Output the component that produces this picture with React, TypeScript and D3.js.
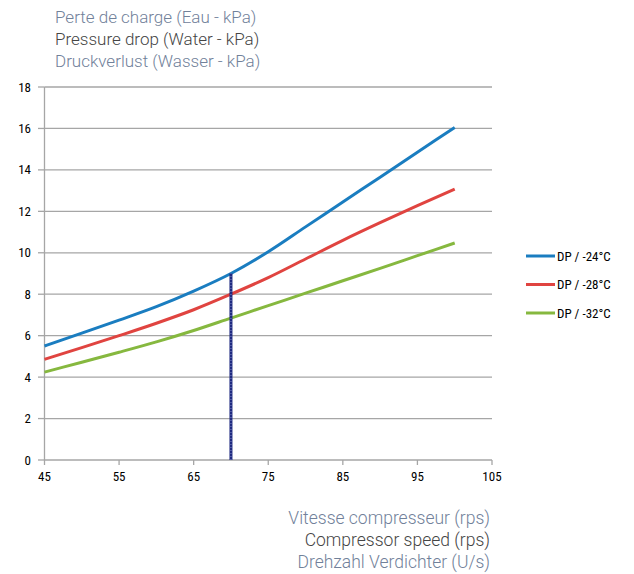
import React from "react";
import * as d3 from "d3";

const speeds = [45, 50, 55, 60, 65, 70, 75, 80, 85, 90, 95, 100];
const dp24 = [5.5, 6.12, 6.75, 7.4, 8.15, 9.0, 10.05, 11.25, 12.45, 13.65, 14.85, 16.05];
const dp28 = [4.86, 5.42, 6.0, 6.6, 7.25, 8.0, 8.8, 9.7, 10.6, 11.45, 12.27, 13.07];
const dp32 = [4.24, 4.72, 5.2, 5.7, 6.25, 6.85, 7.45, 8.05, 8.65, 9.25, 9.86, 10.47];
const seriesNames = ["DP / -24°C", "DP / -28°C", "DP / -32°C"];
const seriesColors = ["#1a7dc0", "#e04440", "#86b83f"];
const xTicks = [45, 55, 65, 75, 85, 95, 105];
const yTicks = [0, 2, 4, 6, 8, 10, 12, 14, 16, 18];
const markerSpeed = 70;
const markerValue = 9.0;
const yTitles = ["Perte de charge (Eau - kPa)", "Pressure drop (Water - kPa)", "Druckverlust (Wasser - kPa)"];
const xTitles = ["Vitesse compresseur (rps)", "Compressor speed (rps)", "Drehzahl Verdichter (U/s)"];
const titleColors = ["#71819a", "#454545", "#71819a"];

export default function App() {
  const W = 634, H = 574;
  const x = d3.scaleLinear().domain([45, 105]).range([44.5, 492]);
  const y = d3.scaleLinear().domain([0, 18]).range([460, 87]);
  const allSeries = [dp24, dp28, dp32];
  const line = d3
    .line<number>()
    .x((_, i) => x(speeds[i]))
    .y((d) => y(d))
    .curve(d3.curveMonotoneX);
  const tickFont = "'Liberation Sans Narrow', 'Roboto Condensed', Roboto, sans-serif";
  const titleFont = "Roboto, 'Noto Sans', sans-serif";
  return (
    <svg width={W} height={H} style={{ position: "absolute", left: 0, top: 0, background: "#fff" }}>
      {yTitles.map((t, i) => (
        <text key={t} x={55} y={23 + i * 22} fontFamily={titleFont} fontWeight={300} fontSize={17} fill={titleColors[i]}>
          {t}
        </text>
      ))}
      {yTicks.map((v) => (
        <g key={v}>
          {v > 0 && (
            <line x1={x(45)} x2={x(105)} y1={y(v)} y2={y(v)} stroke="#a6a6a6" strokeWidth={1.3} />
          )}
          <line x1={38} x2={x(45)} y1={y(v)} y2={y(v)} stroke="#a6a6a6" strokeWidth={1.3} />
          <text x={31} y={y(v) + 4.5} textAnchor="end" fontFamily={tickFont} fontSize={13} fill="#000">
            {v}
          </text>
        </g>
      ))}
      <line x1={x(45)} x2={x(45)} y1={y(0)} y2={y(18)} stroke="#a6a6a6" strokeWidth={1.3} />
      <line x1={x(45)} x2={x(105)} y1={y(0)} y2={y(0)} stroke="#a6a6a6" strokeWidth={1.3} />
      {xTicks.map((v) => (
        <g key={v}>
          <line x1={x(v)} x2={x(v)} y1={y(0)} y2={y(0) + 5} stroke="#a6a6a6" strokeWidth={1.3} />
          <text x={x(v)} y={y(0) + 21} textAnchor="middle" fontFamily={tickFont} fontSize={13} fill="#000">
            {v}
          </text>
        </g>
      ))}
      {allSeries.map((s, i) => (
        <path key={i} d={line(s) || ""} fill="none" stroke={seriesColors[i]} strokeWidth={3} />
      ))}
      <line x1={x(markerSpeed)} x2={x(markerSpeed)} y1={y(0)} y2={y(markerValue)} stroke="#1f2a80" strokeWidth={3} />
      <line
        x1={x(markerSpeed)}
        x2={x(markerSpeed)}
        y1={y(0)}
        y2={y(markerValue)}
        stroke="#7f8ac8"
        strokeWidth={1}
        strokeDasharray="1,2"
      />
      {seriesNames.map((n, i) => (
        <g key={n}>
          <line x1={526} x2={555} y1={256 + i * 28.5} y2={256 + i * 28.5} stroke={seriesColors[i]} strokeWidth={3} />
          <text x={557} y={256 + i * 28.5 + 4.5} fontFamily={tickFont} fontSize={13} fill="#000">
            {n}
          </text>
        </g>
      ))}
      {xTitles.map((t, i) => (
        <text
          key={t}
          x={490}
          y={524 + i * 22}
          textAnchor="end"
          fontFamily={titleFont}
          fontWeight={300}
          fontSize={17.5}
          fill={titleColors[i]}
        >
          {t}
        </text>
      ))}
    </svg>
  );
}
